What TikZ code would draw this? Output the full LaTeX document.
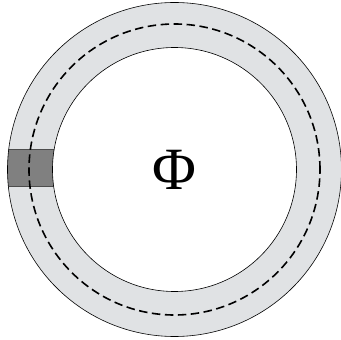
\documentclass[tikz,border=0pt]{standalone}
\usepackage{fontspec}
\usepackage{tikz}
\newfontfamily\phifont{Liberation Serif}
\definecolor{ringgray}{rgb}{0.88,0.885,0.895}
\definecolor{blockgray}{rgb}{0.50,0.50,0.50}
\tikzset{
  rand/.style={
    draw=black,
    line width=.6pt
  },
  mittel/.style={
    draw=black,
    line width=1.6pt,
    dash pattern=on 8.5pt off 4.5pt
  },
  block/.style={
    fill=blockgray,
    draw=black!70,
    line width=.5pt
  }
}
\begin{document}
\begin{tikzpicture}[x=1pt,y=1pt]
\useasboundingbox (-174.5,-170.5) rectangle (166.5,169.5);
\coordinate (m) at (0,0);
% ring
\fill[ringgray,even odd rule] (m) circle (167) (m) circle (122);
\begin{scope}[even odd rule]
  \clip (m) circle (167) (m) circle (122);
  \draw[block] (-175,-16.5) rectangle (-110,20.5);
\end{scope}
\draw[rand] (m) circle (167);
\draw[rand] (m) circle (122);
\draw[mittel] (m) circle (145.5);
\node[font=\phifont\fontsize{60}{62}\selectfont] (phi) at (m) {Φ};
\end{tikzpicture}
\end{document}
